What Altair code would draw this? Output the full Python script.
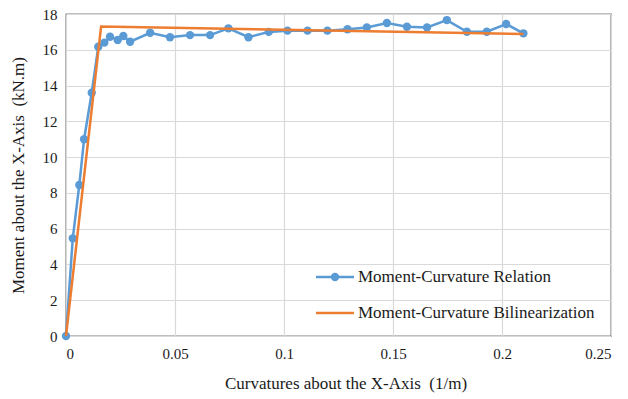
import altair as alt
import pandas as pd

# Moment-curvature response (curvature in 1/m, moment in kN.m)
curvature = [0, 0.0031, 0.0061, 0.0083, 0.0118, 0.0148, 0.0176, 0.0202, 0.0237,
             0.0263, 0.0294, 0.0386, 0.0477, 0.0569, 0.0661, 0.0745, 0.0837,
             0.0930, 0.1016, 0.1108, 0.1199, 0.1291, 0.1380, 0.1472, 0.1564,
             0.1656, 0.1747, 0.1839, 0.1930, 0.2019, 0.2098]
moment = [0, 5.46, 8.44, 11.0, 13.6, 16.17, 16.4, 16.73, 16.55, 16.77, 16.45,
          16.95, 16.70, 16.82, 16.82, 17.2, 16.7, 17.0, 17.07, 17.07, 17.07,
          17.15, 17.25, 17.5, 17.29, 17.25, 17.66, 17.01, 17.01, 17.44, 16.92]

# Bilinear idealisation
bilin_curvature = [0, 0.0161, 0.2098]
bilin_moment = [0, 17.3, 16.88]

x_ticks = [0, 0.05, 0.1, 0.15, 0.2, 0.25]
y_ticks = [0, 2, 4, 6, 8, 10, 12, 14, 16, 18]

series_names = ["Moment-Curvature Relation", "Moment-Curvature Bilinearization"]
BLUE = "#5B9BD5"
ORANGE = "#ED7D31"
FONT = "Liberation Serif"
TEXT = "#1a1a1a"
W, H = 545, 322

rel = pd.DataFrame({"k": curvature, "M": moment})
bil = pd.DataFrame({"k": bilin_curvature, "M": bilin_moment})

x_enc = alt.X(
    "k:Q",
    scale=alt.Scale(domain=[0, 0.25], nice=False, zero=False),
    axis=alt.Axis(
        values=x_ticks, tickCount=6, labelOverlap=False,
        title="Curvatures about the X-Axis\u00a0 (1/m)",
        labelExpr="format(datum.value, '~g')",
        labelFont=FONT, titleFont=FONT,
        titleX=W / 2 + 7, titleY=47, titleBaseline="middle",
    ),
)
y_enc = alt.Y(
    "M:Q",
    scale=alt.Scale(domain=[0, 18], nice=False),
    axis=alt.Axis(
        values=y_ticks, tickCount=10, labelOverlap=False,
        title="Moment about the X-Axis\u00a0 (kN.m)",
        labelFont=FONT, titleFont=FONT,
        titleX=-48, titleY=H / 2, titleBaseline="middle", titleAngle=-90,
    ),
)

relation_line = alt.Chart(rel).mark_line(
    color=BLUE, strokeWidth=2.5,
    point=alt.OverlayMarkDef(color=BLUE, filled=True, size=70, opacity=1),
).encode(x=x_enc, y=y_enc, order="k:Q")

bilinear_line = alt.Chart(bil).mark_line(color=ORANGE, strokeWidth=2.5).encode(
    x=x_enc, y=y_enc, order="k:Q"
)

# Legend drawn inside the plot area, lower right
one = alt.Data(values=[{}])
leg_x0, leg_x1, leg_tx = 250, 288, 292
rows_y = [263, 299]
legend_layers = []
for name, color, yy, dot in zip(series_names, [BLUE, ORANGE], rows_y, [True, False]):
    legend_layers.append(
        alt.Chart(one).mark_rule(color=color, strokeWidth=2.5).encode(
            x=alt.value(leg_x0), x2=alt.value(leg_x1), y=alt.value(yy)
        )
    )
    if dot:
        legend_layers.append(
            alt.Chart(one).mark_point(color=BLUE, filled=True, size=70, opacity=1).encode(
                x=alt.value((leg_x0 + leg_x1) / 2), y=alt.value(yy)
            )
        )
    legend_layers.append(
        alt.Chart(one).mark_text(
            text=name, align="left", baseline="middle", font=FONT,
            fontSize=17, color=TEXT,
        ).encode(x=alt.value(leg_tx), y=alt.value(yy))
    )

chart = alt.layer(relation_line, bilinear_line, *legend_layers).properties(
    width=W, height=H,
    autosize=alt.AutoSizeParams(type="none"),
    padding={"left": 66, "top": 14, "right": 17, "bottom": 63},
    background="white",
).configure_view(
    stroke="#000000", strokeWidth=1.2,
).configure_axis(
    grid=True, gridColor="#D9D9D9", gridWidth=1.2,
    domain=False, ticks=False,
    labelFont=FONT, labelFontSize=15, labelColor=TEXT,
    titleFont=FONT, titleFontSize=17, titleFontWeight="normal", titleColor=TEXT,
).configure_axisX(
    labelPadding=10,
).configure_axisY(
    labelPadding=9,
)

chart.save("out.html", embed_options={"renderer": "svg", "actions": False})
